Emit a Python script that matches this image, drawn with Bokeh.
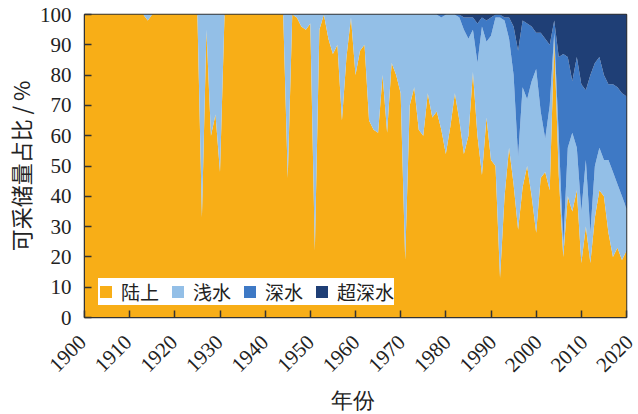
from bokeh.plotting import figure
from bokeh.models import ColumnDataSource, FixedTicker, Range1d, Legend
from bokeh.layouts import column
from bokeh.embed import file_html
from bokeh.resources import INLINE
import math

years = list(range(1900, 2021))

onshore = (
    [100] * 14 + [98] + [100] * 11 +
    [33, 95, 60, 67, 48] +
    [100] * 14 +
    [46, 100, 99, 96, 95, 97, 22, 95, 100, 92, 87, 90, 65, 86, 99] +
    [80, 88, 90, 65, 62, 61, 80, 61, 84, 80] +
    [74, 19, 70, 76, 62, 60, 74, 66, 68, 62] +
    [54, 63, 74, 65, 54, 60, 81, 60, 47, 66] +
    [52, 50, 13, 40, 56, 44, 29, 43, 50, 40] +
    [28, 46, 48, 42, 92, 47, 20, 40, 35, 42] +
    [18, 30, 18, 33, 42, 40, 28, 20, 23, 19, 22]
)

shallow = (
    [0] * 14 + [2] + [0] * 11 +
    [67, 5, 40, 33, 52] +
    [0] * 14 +
    [54, 0, 1, 4, 5, 3, 78, 5, 0, 8, 13, 10, 35, 14, 1] +
    [20, 12, 10, 35, 38, 39, 20, 39, 16, 20] +
    [26, 81, 30, 24, 38, 40, 26, 34, 32, 37] +
    [46, 37, 26, 34, 41, 32, 14, 24, 49, 25] +
    [41, 49, 86, 58, 36, 36, 24, 33, 22, 38] +
    [54, 22, 11, 28, 2, 13, 4, 16, 26, 14] +
    [17, 22, 10, 17, 14, 12, 24, 28, 21, 21, 14]
)

deep = (
    [0] * 79 + [1] +
    [0, 0, 0, 1, 4, 7, 4, 13, 3, 7] +
    [6, 1, 1, 1, 7, 16, 35, 22, 25, 18] +
    [12, 26, 33, 20, 4, 26, 63, 30, 17, 30] +
    [42, 23, 52, 34, 30, 28, 25, 29, 32, 34, 37]
)

ultradeep = (
    [0] * 84 +
    [1, 1, 1, 3, 1, 2] +
    [1, 0, 0, 1, 1, 4, 12, 2, 3, 4] +
    [6, 6, 8, 10, 2, 14, 13, 14, 22, 14] +
    [23, 25, 20, 16, 14, 20, 23, 23, 24, 26, 27]
)

series_names = ["陆上", "浅水", "深水", "超深水"]
series_keys = ["onshore", "shallow", "deep", "ultradeep"]
colors = ["#F8AE17", "#93BFE7", "#3E79C5", "#1F3F76"]

x_ticks = list(range(1900, 2021, 10))
y_ticks = list(range(0, 101, 10))
x_title = "年份"
y_title = "可采储量占比 / %"

# layout (pixels)
W = 638
LEFT, RIGHT, TOP = 79, 12, 14
FRAME_W, FRAME_H = W - LEFT - RIGHT, 303
BOTTOM = 12
H1 = TOP + FRAME_H + BOTTOM
H2 = 414 - H1
X0, X1 = years[0], years[-1]

source = ColumnDataSource(dict(year=years, onshore=onshore, shallow=shallow,
                               deep=deep, ultradeep=ultradeep))

p = figure(width=W, height=H1, output_backend="svg", toolbar_location=None,
           x_range=Range1d(X0, X1), y_range=Range1d(0, 100),
           min_border_left=LEFT, min_border_right=RIGHT,
           min_border_top=TOP, min_border_bottom=BOTTOM)

rs = p.varea_stack(stackers=series_keys, x="year", color=colors,
                   source=source)

legend = Legend(items=[(n, [r]) for n, r in zip(series_names, rs)],
                orientation="horizontal", location=(14, 12))
legend.label_text_font = "Noto Sans CJK SC"
legend.label_text_font_size = "19px"
legend.label_text_color = "#222222"
legend.glyph_width = 15
legend.glyph_height = 15
legend.label_standoff = 8
legend.spacing = 11
legend.padding = 7
legend.margin = 0
legend.border_line_color = None
legend.background_fill_alpha = 1.0
p.add_layout(legend)

p.xgrid.visible = False
p.ygrid.visible = False
p.outline_line_color = "#333333"
p.outline_line_width = 1.5
p.background_fill_color = "white"

for ax in (p.xaxis[0], p.yaxis[0]):
    ax.axis_line_color = "#333333"
    ax.major_tick_in = 7
    ax.major_tick_out = 0
    ax.minor_tick_line_color = None
    ax.major_tick_line_color = "#333333"
    ax.major_tick_line_width = 1.5
    ax.major_label_text_font = "Liberation Serif"
    ax.major_label_text_font_size = "21px"
    ax.major_label_text_color = "#222222"

p.xaxis.ticker = FixedTicker(ticks=x_ticks)
p.yaxis.ticker = FixedTicker(ticks=y_ticks)
p.yaxis.major_label_standoff = 13
p.yaxis.axis_label = y_title
p.yaxis.axis_label_text_font = "Noto Sans CJK SC"
p.yaxis.axis_label_text_font_size = "22px"
p.yaxis.axis_label_text_font_style = "normal"
p.yaxis.axis_label_text_color = "#222222"
p.yaxis.axis_label_standoff = 1
p.xaxis.major_label_overrides = {t: "" for t in x_ticks}
p.xaxis.major_label_text_font_size = "0px"
p.xaxis.major_label_standoff = 0

# strip below the chart for the rotated year labels and the x title;
# its frame covers the whole strip and its x range is mapped so that
# the years fall exactly under the chart frame above
px_per_year = FRAME_W / (X1 - X0)
p2 = figure(width=W, height=H2, output_backend="svg", toolbar_location=None,
            x_axis_location=None, y_axis_location=None,
            x_range=Range1d(X0 - LEFT / px_per_year, X1 + RIGHT / px_per_year),
            y_range=Range1d(H2, 0), min_border=0)
if "frame_align" in p2.properties():
    p2.frame_align = False
p2.grid.visible = False
p2.outline_line_color = None
p2.background_fill_color = "white"
p2.border_fill_color = "white"

p2.text(x=x_ticks, y=[9] * len(x_ticks), text=[str(t) for t in x_ticks],
        angle=math.pi / 4, x_offset=3, text_align="right",
        text_baseline="middle", text_font="Liberation Serif",
        text_font_size="21px", text_color="#222222")
p2.text(x=[(X0 + X1) / 2], y=[71], text=[x_title], text_align="center",
        text_baseline="middle", text_font="Noto Sans CJK SC",
        text_font_size="22px", text_color="#222222")

layout = column(p, p2, spacing=0)
open("out.html", "w").write(file_html(layout, INLINE))
